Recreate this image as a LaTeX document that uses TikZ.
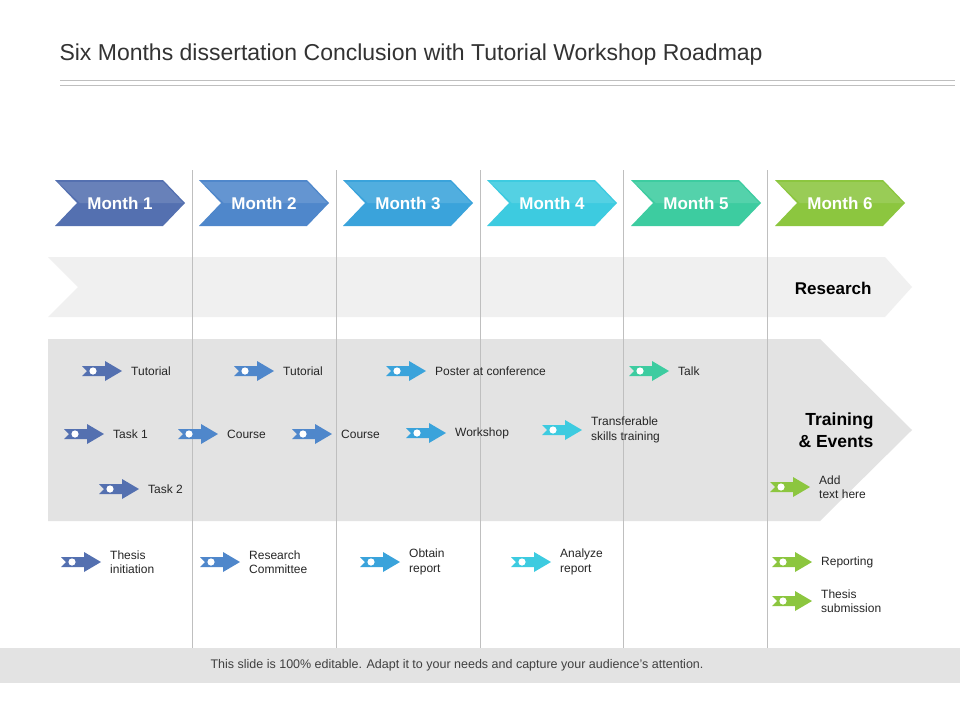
\documentclass[tikz,border=0pt]{standalone}
\usepackage{fontspec}
\setmainfont{Liberation Sans}
\definecolor{mA}{HTML}{5470B0}
\definecolor{mB}{HTML}{4F87CB}
\definecolor{mC}{HTML}{3AA3DB}
\definecolor{mD}{HTML}{3DCBE0}
\definecolor{mE}{HTML}{3DCCA0}
\definecolor{mF}{HTML}{8CC63F}
\tikzset{
  lbl/.style={anchor=west,font=\fontsize{12}{14.5}\selectfont,align=left,text=black!85,inner sep=1pt},
  mon/.style={font=\bfseries\fontsize{17}{19}\selectfont,text=white},
  icon/.pic={\fill[pic actions] (0,-5) -- (23,-5) -- (23,-10) -- (40,0) -- (23,10) -- (23,5) -- (0,5) -- (5,0) -- cycle;
             \fill[white] (11,0) circle (3.6);}
}
\begin{document}
\begin{tikzpicture}[x=1pt,y=-1pt]
\useasboundingbox (0,0) rectangle (960,720);
\fill[white] (0,0) rectangle (960,720);
\node[anchor=west,font=\fontsize{23}{26}\selectfont,text=black!80] (title) at (56,55) {Six Months dissertation Conclusion with Tutorial Workshop Roadmap};
\draw[black!25] (60,80) -- (955,80) (60,85) -- (955,85);
% bands
\fill[black!6] (48,257) -- (885,257) -- (912,287) -- (885,317) -- (48,317) -- (78,287) -- cycle;
\fill[black!11] (48,339) -- (820,339) -- (912,430) -- (820,521) -- (48,521) -- cycle;
\fill[black!11] (0,648) rectangle (960,683);
\node[font=\fontsize{12.5}{14}\selectfont,text=black!75] (foot) at (457,665) {This slide is 100\% editable. Adapt it to your needs and capture your audience's attention.};
% vertical lines
\foreach \x in {192,336,480,623,767} \draw[black!25] (\x,170) -- (\x,648);
% months
\foreach \i/\c in {0/mA,1/mB,2/mC,3/mD,4/mE,5/mF}{
  \fill[\c] ({55+144*\i},180) -- ({163+144*\i},180) -- ({185+144*\i},203) -- ({163+144*\i},226) -- ({55+144*\i},226) -- ({77+144*\i},203) -- cycle;
  \fill[white,opacity=0.12] ({58+144*\i},182) -- ({163+144*\i},182) -- ({183+144*\i},203) -- ({80+144*\i},203) -- cycle;
  \node[mon] (m\i) at ({120+144*\i},203) {Month \the\numexpr\i+1\relax};
}
\node[anchor=east,font=\bfseries\fontsize{17}{20}\selectfont] (res) at (875,288) {Research};
\node[anchor=east,align=right,font=\bfseries\fontsize{17.5}{22}\selectfont] (tr) at (877,430) {Training\\\& Events};
% icons and labels
\foreach \x/\y/\c/\t/\n in {
 82/371/mA/Tutorial/a1, 234/371/mB/Tutorial/a2, 386/371/mC/Poster at conference/a3, 629/371/mE/Talk/a4,
 64/434/mA/Task 1/b1, 178/434/mB/Course/b2, 292/434/mB/Course/b3, 406/433/mC/Workshop/b4,
 542/430/mD/{Transferable\\skills training}/b5, 99/489/mA/Task 2/c1, 770/487/mF/{Add\\text here}/c2,
 61/562/mA/{Thesis\\initiation}/d1, 200/562/mB/{Research\\Committee}/d2, 360/562/mC/{Obtain\\report}/d3,
 511/562/mD/{Analyze\\report}/d4, 772/562/mF/Reporting/d5, 772/601/mF/{Thesis\\submission}/d6}{
  \pic[fill=\c] at (\x,\y) {icon};
  \node[lbl] (\n) at (\x+48,\y) {\t};
}
\end{tikzpicture}
\end{document}
